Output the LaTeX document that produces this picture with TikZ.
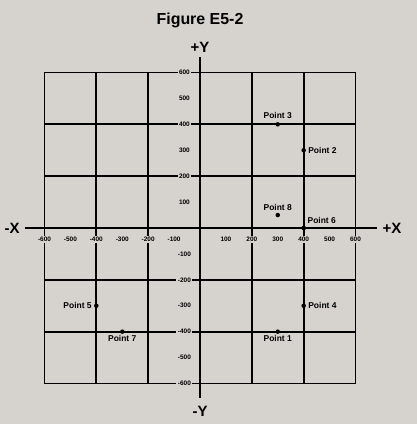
\documentclass[tikz,border=0pt]{standalone}
\usepackage{fontspec}
\setmainfont{Liberation Sans}
\definecolor{bggray}{RGB}{214,211,206}
\begin{document}
\begin{tikzpicture}[x=1bp,y=-1bp,
  gridline/.style={line width=1.8bp,black},
  axisline/.style={line width=2.2bp,black},
  ticklab/.style={font=\fontsize{6.5}{7}\selectfont\bfseries,fill=bggray,inner sep=1.5bp},
  ptlab/.style={font=\fontsize{8.5}{9}\selectfont\bfseries,inner sep=1bp},
  axlab/.style={font=\fontsize{15}{17}\selectfont\bfseries,inner sep=0pt},
  dot/.style={circle,fill=black,inner sep=0pt,minimum size=4.5bp}]
\fill[bggray] (0,0) rectangle (417,424);
\useasboundingbox (0,0) rectangle (417,424);
\node[font=\fontsize{16}{18}\selectfont\bfseries] (title) at (200,20) {Figure E5-2};
% axes end points
\coordinate (xl) at (25,228);
\coordinate (xr) at (377,228);
\coordinate (yt) at (200,57);
\coordinate (yb) at (200,398);
\node[axlab] (mx) at (12,228) {-X};
\node[axlab] (px) at (392,228) {+X};
\node[axlab] (py) at (200,47) {+Y};
\node[axlab] (my) at (200,411) {-Y};
\begin{scope}[shift={(200,228)},x=0.2592bp,y=0.2592bp]
  % grid
  \foreach \v in {-600,-400,-200,200,400,600}{
    \draw[gridline] (\v,-600) -- (\v,600);
    \draw[gridline] (-600,\v) -- (600,\v);
  }
  % y tick labels
  \foreach \v in {600,500,400,300,200,100,-100,-200,-300,-400,-500,-600}{
    \node[ticklab] at (-60,\v) {\v};
  }
  % x tick labels
  \foreach \v in {-600,-500,-400,-300,-200,-100,100,200,300,400,500,600}{
    \node[ticklab] at (\v,-45) {\v};
  }
  % points
  \node[dot] (p1) at (300,-400) {};
  \node[dot] (p2) at (400,300) {};
  \node[dot] (p3) at (300,400) {};
  \node[dot] (p4) at (400,-300) {};
  \node[dot] (p5) at (-400,-300) {};
  \node[dot] (p6) at (400,0) {};
  \node[dot] (p7) at (-300,-400) {};
  \node[dot] (p8) at (300,50) {};
\end{scope}
\draw[axisline] (xl) -- (xr);
\draw[axisline] (yt) -- (yb);
\node[dot] at (p6) {};
\node[ptlab,anchor=north] (l1) at ([yshift=-0.5bp]p1.south) {Point 1};
\node[ptlab,anchor=west] (l2) at ([xshift=1bp]p2.east) {Point 2};
\node[ptlab,anchor=south] (l3) at ([yshift=2bp]p3.north) {Point 3};
\node[ptlab,anchor=west] (l4) at ([xshift=1bp]p4.east) {Point 4};
\node[ptlab,anchor=east] (l5) at ([xshift=-1bp]p5.west) {Point 5};
\node[ptlab,anchor=south west] (l6) at ([xshift=1bp,yshift=1bp]p6.north east) {Point 6};
\node[ptlab,anchor=north] (l7) at ([yshift=-0.5bp]p7.south) {Point 7};
\node[ptlab,anchor=south] (l8) at ([yshift=1bp]p8.north) {Point 8};
\end{tikzpicture}
\end{document}
